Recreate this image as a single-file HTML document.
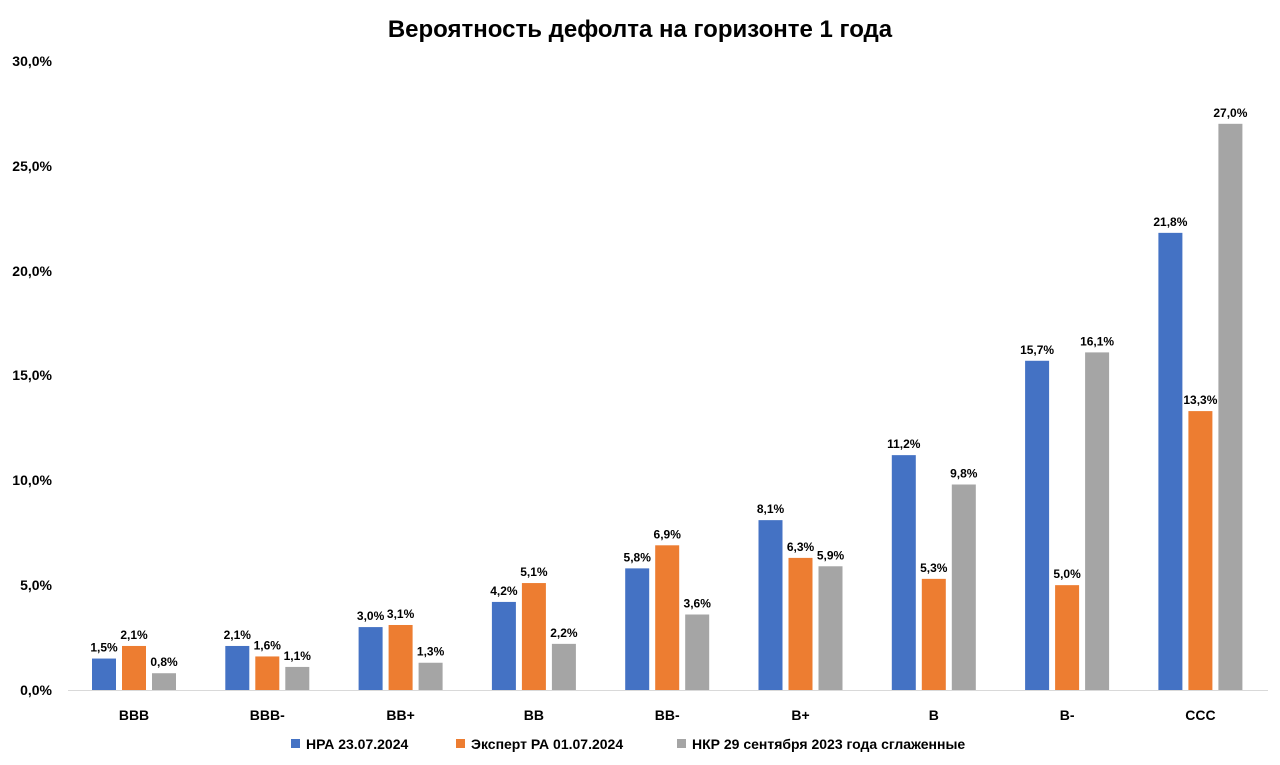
<!DOCTYPE html>
<html><head><meta charset="utf-8"><style>
html,body{margin:0;padding:0;background:#fff;}
svg{display:block;font-family:"Liberation Sans","DejaVu Sans",sans-serif;}
</style></head><body>
<svg width="1280" height="765" viewBox="0 0 1280 765" xmlns="http://www.w3.org/2000/svg">
<text x="640" y="37" text-anchor="middle" font-size="24" font-weight="bold" fill="#000">Вероятность дефолта на горизонте 1 года</text>
<g font-size="14" font-weight="bold" fill="#000" text-anchor="end">
<text x="52" y="695">0,0%</text>
<text x="52" y="590">5,0%</text>
<text x="52" y="485">10,0%</text>
<text x="52" y="380">15,0%</text>
<text x="52" y="276">20,0%</text>
<text x="52" y="171">25,0%</text>
<text x="52" y="66">30,0%</text>
</g>
<line x1="68" y1="690.5" x2="1268" y2="690.5" stroke="#d9d9d9" stroke-width="1"/>
<g id="bars"></g>
<g font-size="14" font-weight="bold" fill="#000" text-anchor="middle" id="cats"></g>
<g font-size="14" font-weight="bold" fill="#000">
<rect x="291" y="739" width="9" height="9" fill="#4472C4"/><text x="306" y="749">НРА 23.07.2024</text>
<rect x="456" y="739" width="9" height="9" fill="#ED7D31"/><text x="471" y="749">Эксперт РА 01.07.2024</text>
<rect x="677" y="739" width="9" height="9" fill="#A5A5A5"/><text x="692" y="749">НКР 29 сентября 2023 года сглаженные</text>
</g>
<script>
var cats=["BBB","BBB-","BB+","BB","BB-","B+","B","B-","CCC"];
var d=[[1.5,2.1,0.8],[2.1,1.6,1.1],[3.0,3.1,1.3],[4.2,5.1,2.2],[5.8,6.9,3.6],[8.1,6.3,5.9],[11.2,5.3,9.8],[15.7,5.0,16.1],[21.8,13.3,27.0]];
var col=["#4472C4","#ED7D31","#A5A5A5"];
var ns="http://www.w3.org/2000/svg",b=document.getElementById("bars"),c=document.getElementById("cats");
for(var i=0;i<9;i++){var cx=134+i*133.3;
var t=document.createElementNS(ns,"text");t.setAttribute("x",cx);t.setAttribute("y",720);t.textContent=cats[i];c.appendChild(t);
for(var j=0;j<3;j++){var v=d[i][j],h=v*20.97,x=cx-42+j*30;
var r=document.createElementNS(ns,"rect");r.setAttribute("x",x);r.setAttribute("y",690-h);r.setAttribute("width",24);r.setAttribute("height",h);r.setAttribute("fill",col[j]);b.appendChild(r);
var l=document.createElementNS(ns,"text");l.setAttribute("x",x+12);l.setAttribute("y",690-h-7);l.setAttribute("text-anchor","middle");l.setAttribute("font-size","12");l.setAttribute("font-weight","bold");l.textContent=v.toFixed(1).replace(".",",")+"%";b.appendChild(l);}}
</script>
</svg>
</body></html>
